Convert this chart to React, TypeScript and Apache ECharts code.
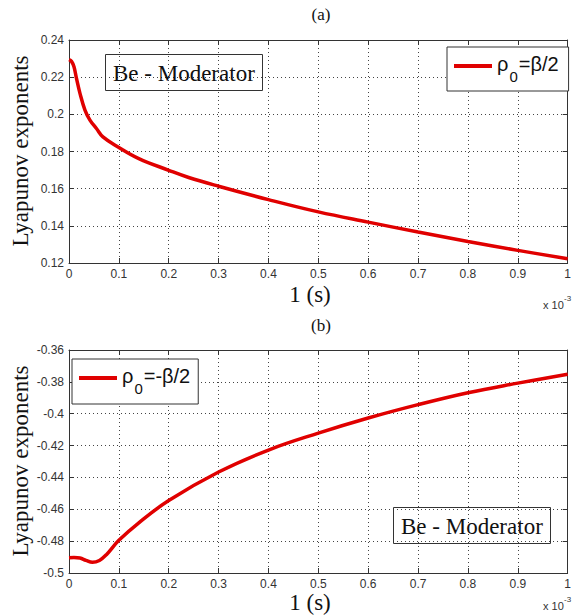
import React, { useEffect, useRef } from "react";
import * as echarts from "echarts";

// Panel (a): rho0 = beta/2
const tA = [0, 0.005, 0.01, 0.015, 0.022, 0.032, 0.042, 0.055, 0.068, 0.1, 0.14, 0.2, 0.24, 0.3, 0.4, 0.5, 0.6, 0.7, 0.8, 0.9, 1.0];
const lyapA = [0.2294, 0.2285, 0.2256, 0.2193, 0.2113, 0.2023, 0.1969, 0.1924, 0.1879, 0.1822, 0.1762, 0.1699, 0.166, 0.1613, 0.1541, 0.1475, 0.142, 0.1367, 0.1316, 0.1268, 0.1223];

// Panel (b): rho0 = -beta/2
const tB = [0, 0.01, 0.022, 0.034, 0.047, 0.061, 0.075, 0.1, 0.14, 0.2, 0.3, 0.4, 0.5, 0.6, 0.7, 0.8, 0.9, 1.0];
const lyapB = [-0.4904, -0.4903, -0.4906, -0.4921, -0.4933, -0.4921, -0.4885, -0.4795, -0.4685, -0.4545, -0.4366, -0.4228, -0.4122, -0.4027, -0.3943, -0.3868, -0.3808, -0.3752];

const xMin = 0, xMax = 1, xStep = 0.1;
const yRangeA = [0.12, 0.24];
const yRangeB = [-0.5, -0.36];
const yStep = 0.02;

const nameA = "ρ0=β/2";
const nameB = "ρ0=-β/2";
const boxText = "Be - Moderator";
const yName = "Lyapunov exponents";
const xName = "1 (s)";

const SANS = "Liberation Sans";
const SERIF = "Liberation Serif";
const FRAME = "#333";

const fmt = (v: number) => String(Number(v.toFixed(2)));

export default function App() {
  const ref = useRef<HTMLDivElement>(null);
  useEffect(() => {
    if (!ref.current) return;
    const chart = echarts.init(ref.current, null, { renderer: "svg" });

    const grids = [
      { left: 69, top: 40, width: 504, height: 223 },
      { left: 69, top: 350, width: 504, height: 223 },
    ];

    const xAxisBase = (gi: number, pos: string, main: boolean) => ({
      gridIndex: gi,
      type: "value",
      position: pos,
      min: xMin,
      max: xMax,
      interval: xStep,
      axisLine: { show: true, onZero: false, lineStyle: { color: FRAME, width: 1 } },
      axisTick: { show: true, inside: true, length: 5, lineStyle: { color: FRAME } },
      axisLabel: {
        show: main,
        margin: 5,
        fontFamily: SANS,
        fontSize: 12,
        color: "#333",
        formatter: fmt,
      },
      splitLine: { show: main, lineStyle: { type: [1, 3], color: "#444", width: 1 } },
    });
    const yAxisBase = (gi: number, pos: string, main: boolean, range: number[]) => ({
      gridIndex: gi,
      type: "value",
      position: pos,
      min: range[0],
      max: range[1],
      interval: yStep,
      axisLine: { show: true, onZero: false, lineStyle: { color: FRAME, width: 1 } },
      axisTick: { show: true, inside: true, length: 5, lineStyle: { color: FRAME } },
      axisLabel: {
        show: main,
        margin: 5,
        fontFamily: SANS,
        fontSize: 12,
        color: "#333",
        formatter: fmt,
      },
      splitLine: { show: main, lineStyle: { type: [1, 3], color: "#444", width: 1 } },
    });

    const richLegend = {
      a: { fontFamily: SANS, fontSize: 20, lineHeight: 24, verticalAlign: "top", color: "#111" },
      s: { fontFamily: SANS, fontSize: 15, lineHeight: 15, verticalAlign: "top", padding: [15, 1, 0, 1], color: "#111" },
    };

    const boxTitle = (left: number, top: number) => ({
      text: boxText,
      left,
      top,
      padding: [7, 8, 6, 8],
      borderWidth: 1,
      borderColor: FRAME,
      textStyle: { fontFamily: SERIF, fontSize: 23, fontWeight: "normal", color: "#111", lineHeight: 24 },
    });

    chart.setOption({
      animation: false,
      backgroundColor: "#fff",
      grid: grids,
      xAxis: [
        xAxisBase(0, "bottom", true),
        xAxisBase(0, "top", false),
        xAxisBase(1, "bottom", true),
        xAxisBase(1, "top", false),
      ],
      yAxis: [
        yAxisBase(0, "left", true, yRangeA),
        yAxisBase(0, "right", false, yRangeA),
        yAxisBase(1, "left", true, yRangeB),
        yAxisBase(1, "right", false, yRangeB),
      ],
      title: [boxTitle(105, 54), boxTitle(393, 507)],
      legend: [
        {
          data: [{ name: nameA, icon: "rect" }],
          left: 447,
          top: 47,
          itemWidth: 38,
          itemHeight: 4,
          itemGap: 5,
          padding: [7, 10, 7, 7],
          borderWidth: 1,
          borderColor: FRAME,
          backgroundColor: "#fff",
          formatter: () => "{a|ρ}{s|0}{a|=β/2}",
          textStyle: { rich: richLegend },
        },
        {
          data: [{ name: nameB, icon: "rect" }],
          left: 72,
          top: 359,
          itemWidth: 38,
          itemHeight: 4,
          itemGap: 5,
          padding: [7, 8, 8, 7],
          borderWidth: 1,
          borderColor: FRAME,
          backgroundColor: "#fff",
          formatter: () => "{a|ρ}{s|0}{a|=-β/2}",
          textStyle: { rich: richLegend },
        },
      ],
      series: [
        {
          name: nameA,
          type: "line",
          xAxisIndex: 0,
          yAxisIndex: 0,
          data: tA.map((t, i) => [t, lyapA[i]]),
          showSymbol: false,
          smooth: 0.4,
          color: "#e00000",
          lineStyle: { width: 3.5, color: "#e00000" },
          z: 3,
        },
        {
          name: nameB,
          type: "line",
          xAxisIndex: 2,
          yAxisIndex: 2,
          data: tB.map((t, i) => [t, lyapB[i]]),
          showSymbol: false,
          smooth: 0.4,
          color: "#e00000",
          lineStyle: { width: 3.5, color: "#e00000" },
          z: 3,
        },
      ],
      graphic: [
        { type: "text", x: 321, y: 14, style: { text: "(a)", font: `17px '${SERIF}'`, fill: "#111", textAlign: "center", textVerticalAlign: "middle" } },
        { type: "text", x: 321, y: 325, style: { text: "(b)", font: `17px '${SERIF}'`, fill: "#111", textAlign: "center", textVerticalAlign: "middle" } },
        { type: "text", x: 310, y: 294, style: { text: xName, font: `23px '${SERIF}'`, fill: "#111", textAlign: "center", textVerticalAlign: "middle" } },
        { type: "text", x: 310, y: 602, style: { text: xName, font: `23px '${SERIF}'`, fill: "#111", textAlign: "center", textVerticalAlign: "middle" } },
        { type: "text", x: 20, y: 151, rotation: Math.PI / 2, style: { text: yName, font: `23px '${SERIF}'`, fill: "#111", textAlign: "center", textVerticalAlign: "middle" } },
        { type: "text", x: 20, y: 461, rotation: Math.PI / 2, style: { text: yName, font: `23px '${SERIF}'`, fill: "#111", textAlign: "center", textVerticalAlign: "middle" } },
        { type: "text", x: 543, y: 305, style: { text: "x 10", font: `11px '${SANS}'`, fill: "#333", textVerticalAlign: "middle" } },
        { type: "text", x: 564, y: 298, style: { text: "-3", font: `8px '${SANS}'`, fill: "#333", textVerticalAlign: "middle" } },
        { type: "text", x: 543, y: 606, style: { text: "x 10", font: `11px '${SANS}'`, fill: "#333", textVerticalAlign: "middle" } },
        { type: "text", x: 564, y: 599, style: { text: "-3", font: `8px '${SANS}'`, fill: "#333", textVerticalAlign: "middle" } },
      ],
    });
    return () => chart.dispose();
  }, []);
  return (
    <div
      ref={ref}
      style={{ position: "fixed", left: 0, top: 0, width: 574, height: 615 }}
    />
  );
}
